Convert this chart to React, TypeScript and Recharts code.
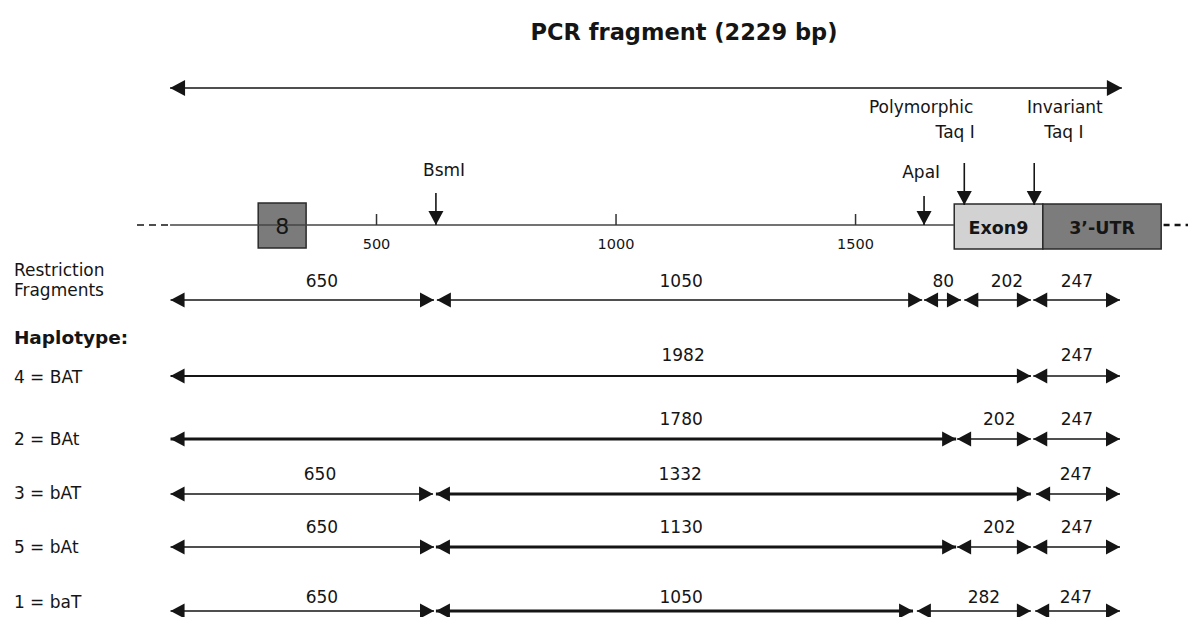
import React from 'react';
import { ComposedChart, Line, Scatter, XAxis, YAxis, ReferenceArea } from 'recharts';

// ---------- data (positions along the PCR fragment, in bp as drawn) ----------
const TITLE = 'PCR fragment (2229 bp)';
const PCR_SPAN = [69, 2056];
const SCALE_TICKS = [500, 1000, 1500];

const EXON8 = { from: 253, to: 353, label: '8' };
const EXON9 = { from: 1706, to: 1891, label: 'Exon9' };
const UTR3 = { from: 1891, to: 2138, label: '3’-UTR' };

const SITE_NAMES = [['BsmI'], ['ApaI'], ['Polymorphic', 'Taq I'], ['Invariant', 'Taq I']];
const SITE_POS = [624, 1643, 1727, 1873];
const SITE_LABEL_POS = [[641], [1637], [1637, 1708], [1937, 1935]];

const RESTRICTION = [
  { from: 70, to: 620, size: '650', at: 386 },
  { from: 626, to: 1639, size: '1050', at: 1136 },
  { from: 1643, to: 1720, size: '80', at: 1683 },
  { from: 1727, to: 1866, size: '202', at: 1816 },
  { from: 1871, to: 2052, size: '247', at: 1962 },
];

const HAPLOTYPE_NAMES = ['4 = BAT', '2 = BAt', '3 = bAT', '5 = bAt', '1 = baT'];

const HAP_4_BAT = [
  { from: 70, to: 1866, size: '1982', at: 1140, emph: 1 },
  { from: 1871, to: 2052, size: '247', at: 1962 },
];
const HAP_2_BAt = [
  { from: 70, to: 1710, size: '1780', at: 1136, emph: 2 },
  { from: 1712, to: 1866, size: '202', at: 1800 },
  { from: 1871, to: 2052, size: '247', at: 1962 },
];
const HAP_3_bAT = [
  { from: 70, to: 618, size: '650', at: 382 },
  { from: 624, to: 1866, size: '1332', at: 1134, emph: 2 },
  { from: 1877, to: 2052, size: '247', at: 1960 },
];
const HAP_5_bAt = [
  { from: 70, to: 620, size: '650', at: 386 },
  { from: 624, to: 1710, size: '1130', at: 1136, emph: 2 },
  { from: 1712, to: 1866, size: '202', at: 1800 },
  { from: 1871, to: 2052, size: '247', at: 1962 },
];
const HAP_1_baT = [
  { from: 70, to: 620, size: '650', at: 386 },
  { from: 624, to: 1620, size: '1050', at: 1136, emph: 2 },
  { from: 1628, to: 1866, size: '282', at: 1768 },
  { from: 1875, to: 2052, size: '247', at: 1960 },
];
const HAPLOTYPE_FRAGMENTS = [HAP_4_BAT, HAP_2_BAt, HAP_3_bAT, HAP_5_bAt, HAP_1_baT];

// ---------- layout ----------
const W = 1188;
const H = 617;
const X_DOMAIN: [number, number] = [-286, 2194];
const LEFT_TEXT_X = -257;
const FONT = '"DejaVu Sans", Verdana, sans-serif';
const INK = '#151515';

const Y_TITLE = 32;
const Y_TOP_ARROW = 88;
const Y_AXIS_LINE = 225;
const Y_BOX = [204, 249];
const Y_RESTR = 300;
const Y_RESTR_LABEL = 281;
const ROW_Y = [376, 439, 494, 547, 611];
const ROW_TEXT_Y = [377, 439, 493, 547, 602];
const ROW_LABEL_Y = [355, 419, 474, 527, 597];
const SITE_ARROW_Y = [[193, 225], [196, 225], [163, 205], [163, 205]];
const SITE_TEXT_Y = [[170], [172], [107, 132], [107, 132]];

const STROKE_W = [1.4, 1.9, 3];

type Dir = 'left' | 'right' | 'down';
const head = (cx: number, cy: number, dir: Dir, len = 13, half = 7) => {
  if (dir === 'left') return `${cx},${cy} ${cx + len},${cy - half} ${cx + len},${cy + half}`;
  if (dir === 'right') return `${cx},${cy} ${cx - len},${cy - half} ${cx - len},${cy + half}`;
  return `${cx},${cy} ${cx - half},${cy - len} ${cx + half},${cy - len}`;
};

const doubleArrowDot = (len: number, half: number) => (p: any) => {
  const { cx, cy, index } = p;
  if (cx == null || cy == null) return <g key={`d${index}`} />;
  return <polygon key={`d${index}`} points={head(cx, cy, index === 0 ? 'left' : 'right', len, half)} fill={INK} />;
};
const downArrowDot = (p: any) => {
  const { cx, cy, index } = p;
  if (index === 0 || cx == null) return <g key={`d${index}`} />;
  return <polygon key={`d${index}`} points={head(cx, cy, 'down', 14, 7.5)} fill={INK} />;
};

type TextItem = { x: number; y: number; text: string };
const textShape = (size: number, weight: number, anchor: string) => (p: any) => (
  <text
    x={p.cx}
    y={p.cy}
    fontSize={size}
    fontWeight={weight}
    textAnchor={anchor}
    dominantBaseline="central"
    fontFamily={FONT}
    fill={INK}
  >
    {p.payload.text}
  </text>
);

export default function App() {
  const arrows: { key: string; data: any[]; w: number; len?: number; half?: number }[] = [];
  arrows.push({ key: 'top', data: [{ x: PCR_SPAN[0], y: Y_TOP_ARROW }, { x: PCR_SPAN[1], y: Y_TOP_ARROW }], w: 1.6, len: 15, half: 8 });
  RESTRICTION.forEach((f, i) =>
    arrows.push({ key: `r${i}`, data: [{ x: f.from, y: Y_RESTR }, { x: f.to, y: Y_RESTR }], w: STROKE_W[0] })
  );
  HAPLOTYPE_FRAGMENTS.forEach((row, r) =>
    row.forEach((f: any, i) =>
      arrows.push({ key: `h${r}-${i}`, data: [{ x: f.from, y: ROW_Y[r] }, { x: f.to, y: ROW_Y[r] }], w: STROKE_W[f.emph || 0] })
    )
  );

  const plainText: TextItem[] = [];
  const smallText: TextItem[] = [];
  const leftText: TextItem[] = [];
  const leftBold: TextItem[] = [];

  RESTRICTION.forEach((f) => plainText.push({ x: f.at, y: Y_RESTR_LABEL, text: f.size }));
  HAPLOTYPE_FRAGMENTS.forEach((row, r) => row.forEach((f) => plainText.push({ x: f.at, y: ROW_LABEL_Y[r], text: f.size })));
  SITE_NAMES.forEach((lines, s) =>
    lines.forEach((t, j) => plainText.push({ x: SITE_LABEL_POS[s][j], y: SITE_TEXT_Y[s][j], text: t }))
  );
  SCALE_TICKS.forEach((t) => smallText.push({ x: t, y: 244, text: String(t) }));
  leftText.push({ x: LEFT_TEXT_X, y: 270, text: 'Restriction' });
  leftText.push({ x: LEFT_TEXT_X, y: 290, text: 'Fragments' });
  leftBold.push({ x: LEFT_TEXT_X, y: 337, text: 'Haplotype:' });
  HAPLOTYPE_NAMES.forEach((n, r) => leftText.push({ x: LEFT_TEXT_X, y: ROW_TEXT_Y[r], text: n }));

  const boxMid = (b: { from: number; to: number }) => (b.from + b.to) / 2;
  const boxY = (Y_BOX[0] + Y_BOX[1]) / 2 + 1;
  const boxBold: TextItem[] = [
    { x: boxMid(EXON9), y: boxY, text: EXON9.label },
    { x: boxMid(UTR3), y: boxY, text: UTR3.label },
  ];
  const box8Text: TextItem[] = [{ x: boxMid(EXON8), y: boxY - 1, text: EXON8.label }];
  const titleText: TextItem[] = [{ x: (X_DOMAIN[0] + X_DOMAIN[1]) / 2 + 188, y: Y_TITLE, text: TITLE }];

  return (
    <div style={{ width: W, height: H, background: '#fff' }}>
      <style>{'body{margin:0;background:#fff}'}</style>
      <ComposedChart width={W} height={H} margin={{ top: 0, right: 0, bottom: 0, left: 0 }}>
        <XAxis type="number" dataKey="x" domain={X_DOMAIN} hide allowDataOverflow />
        <YAxis type="number" dataKey="y" domain={[0, H]} reversed hide allowDataOverflow />

        {/* backbone */}
        <Line data={[{ x: 0, y: Y_AXIS_LINE }, { x: PCR_SPAN[0], y: Y_AXIS_LINE }]} dataKey="y" stroke={INK} strokeWidth={1.6} strokeDasharray="7 5" dot={false} activeDot={false} isAnimationActive={false} />
        <Line data={[{ x: PCR_SPAN[0], y: Y_AXIS_LINE }, { x: EXON9.from, y: Y_AXIS_LINE }]} dataKey="y" stroke="#444" strokeWidth={1.6} dot={false} activeDot={false} isAnimationActive={false} />
        <Line data={[{ x: UTR3.to + 5, y: Y_AXIS_LINE }, { x: X_DOMAIN[1], y: Y_AXIS_LINE }]} dataKey="y" stroke={INK} strokeWidth={2.4} strokeDasharray="6 5" dot={false} activeDot={false} isAnimationActive={false} />
        {SCALE_TICKS.map((t) => (
          <Line key={`t${t}`} data={[{ x: t, y: Y_AXIS_LINE - 11 }, { x: t, y: Y_AXIS_LINE }]} dataKey="y" stroke="#333" strokeWidth={1.5} dot={false} activeDot={false} isAnimationActive={false} />
        ))}

        <ReferenceArea x1={EXON8.from} x2={EXON8.to} y1={Y_BOX[0] - 1} y2={Y_BOX[1] - 1} fill="#7b7b7b" fillOpacity={1} stroke="#2a2a2a" strokeWidth={1.5} ifOverflow="visible" />
        <ReferenceArea x1={EXON9.from} x2={EXON9.to} y1={Y_BOX[0]} y2={Y_BOX[1]} fill="#d2d2d2" fillOpacity={1} stroke="#2a2a2a" strokeWidth={1.5} ifOverflow="visible" />
        <ReferenceArea x1={UTR3.from} x2={UTR3.to} y1={Y_BOX[0]} y2={Y_BOX[1]} fill="#7c7c7c" fillOpacity={1} stroke="#2a2a2a" strokeWidth={1.5} ifOverflow="visible" />

        {SITE_POS.map((s, i) => (
          <Line key={`s${i}`} data={[{ x: s, y: SITE_ARROW_Y[i][0] }, { x: s, y: SITE_ARROW_Y[i][1] }]} dataKey="y" stroke={INK} strokeWidth={1.6} dot={downArrowDot} activeDot={false} isAnimationActive={false} />
        ))}

        {arrows.map((a) => (
          <Line key={a.key} data={a.data} dataKey="y" stroke={INK} strokeWidth={a.w} dot={doubleArrowDot(a.len ?? 14, a.half ?? 7.5)} activeDot={false} isAnimationActive={false} />
        ))}

        <Scatter data={titleText} shape={textShape(22.5, 700, 'middle')} isAnimationActive={false} />
        <Scatter data={plainText} shape={textShape(17, 400, 'middle')} isAnimationActive={false} />
        <Scatter data={smallText} shape={textShape(14.5, 400, 'middle')} isAnimationActive={false} />
        <Scatter data={leftText} shape={textShape(17, 400, 'start')} isAnimationActive={false} />
        <Scatter data={leftBold} shape={textShape(18.5, 700, 'start')} isAnimationActive={false} />
        <Scatter data={boxBold} shape={textShape(17.5, 700, 'middle')} isAnimationActive={false} />
        <Scatter data={box8Text} shape={textShape(22, 400, 'middle')} isAnimationActive={false} />
      </ComposedChart>
    </div>
  );
}
